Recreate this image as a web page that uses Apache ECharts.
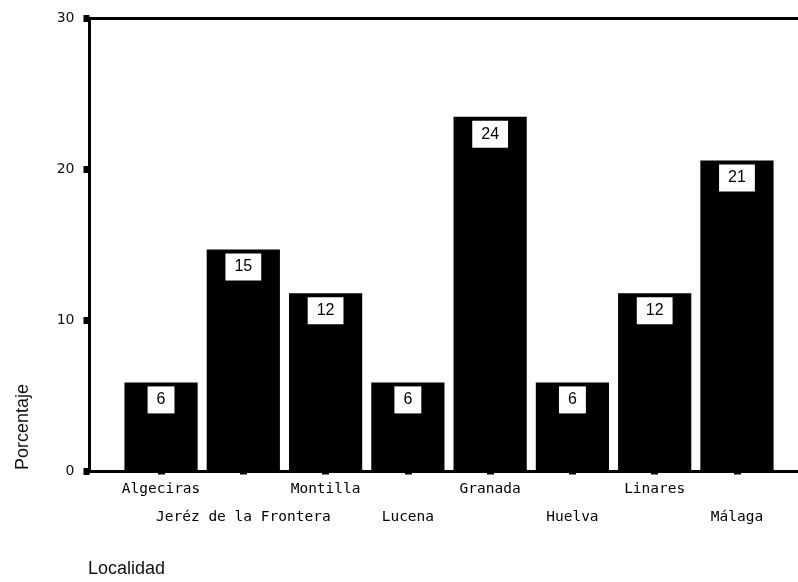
<!DOCTYPE html>
<html>
<head>
<meta charset="utf-8">
<script src="https://cdn.jsdelivr.net/npm/echarts@6/dist/echarts.min.js"></script>
<style>html,body{margin:0;padding:0;background:#fff;}#c{width:798px;height:582px;}</style>
</head>
<body>
<div id="c"></div>
<script>
var categories = ['Algeciras', 'Jeréz de la Frontera', 'Montilla', 'Lucena', 'Granada', 'Huelva', 'Linares', 'Málaga'];
var values = [5.9, 14.7, 11.8, 5.9, 23.5, 5.9, 11.8, 20.6];
var yTicks = [0, 10, 20, 30];
var yTitle = 'Porcentaje';
var xTitle = 'Localidad';

var chart = echarts.init(document.getElementById('c'), null, {renderer: 'canvas'});
chart.setOption({
  backgroundColor: '#fff',
  animation: false,
  grid: [
    {left: 89.5, width: 730, top: 18.5, bottom: 110.5, outerBoundsMode: 'none', containLabel: false, show: true, borderColor: '#000', borderWidth: 3, backgroundColor: 'transparent'},
    {left: 119.9, right: 19.9, top: 18.5, bottom: 110.5, outerBoundsMode: 'none', containLabel: false}
  ],
  graphic: [
    {type: 'text', left: 88, top: 560, style: {text: xTitle, font: '18px "Liberation Sans", Arial, sans-serif', fill: '#111'}},
    {type: 'text', x: 14, y: 470, rotation: Math.PI / 2, style: {text: yTitle, font: '18px "Liberation Sans", Arial, sans-serif', fill: '#111'}}
  ],
  xAxis: [
    {gridIndex: 0, type: 'value', show: false, min: 0, max: 1},
    {
      gridIndex: 1, type: 'category', data: categories, boundaryGap: true,
      axisLine: {show: false},
      axisTick: {show: true, alignWithLabel: true, length: 3, lineStyle: {color: '#000', width: 7}},
      axisLabel: {
        interval: 0, margin: 4, color: '#000',
        fontFamily: '"DejaVu Sans Mono", monospace', fontSize: 14.5, lineHeight: 28,
        formatter: function (v, i) { return i % 2 ? '\n' + v : v; }
      }
    }
  ],
  yAxis: [
    {gridIndex: 0, type: 'value', show: false, min: 0, max: 1},
    {
      gridIndex: 1, type: 'value', min: yTicks[0], max: yTicks[yTicks.length - 1], interval: 10,
      offset: 30.4,
      axisLine: {show: false},
      splitLine: {show: false},
      axisTick: {show: true, length: 6, lineStyle: {color: '#000', width: 7}},
      axisLabel: {margin: 15, color: '#111', fontFamily: '"DejaVu Sans", sans-serif', fontSize: 14}
    }
  ],
  series: [{
    type: 'bar', xAxisIndex: 1, yAxisIndex: 1,
    data: values,
    barCategoryGap: '11%',
    itemStyle: {color: '#000'},
    label: {
      show: true, position: 'insideTop', distance: 4,
      formatter: function (p) { return String(Math.round(p.value)); },
      color: '#000', fontFamily: '"Liberation Sans", Arial, sans-serif', fontSize: 16,
      backgroundColor: '#fff', padding: [6, 9, 6, 9], lineHeight: 15
    }
  }]
});
</script>
</body>
</html>
